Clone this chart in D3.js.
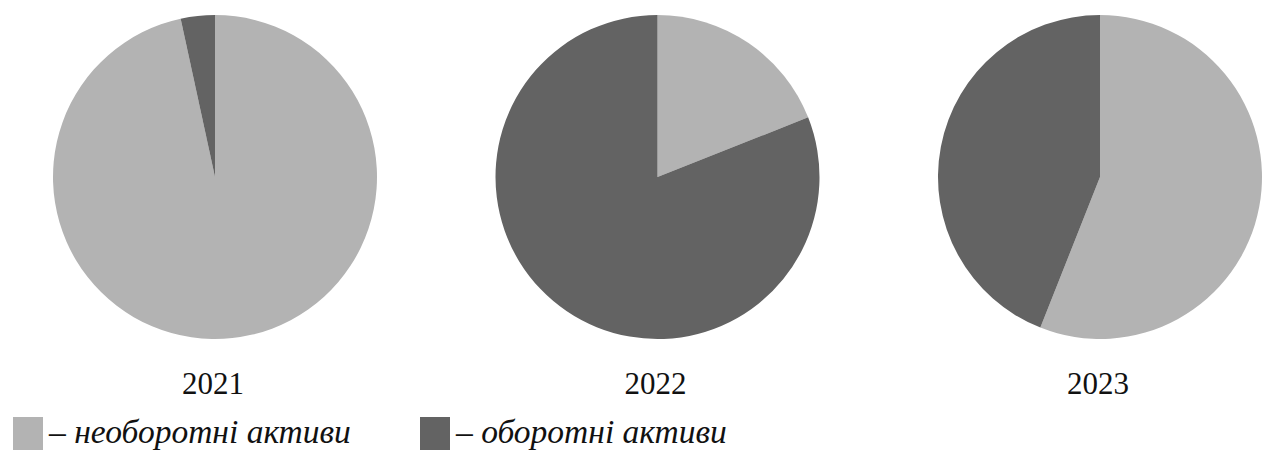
<!DOCTYPE html>
<html>
<head>
<meta charset="utf-8">
<script src="https://cdn.jsdelivr.net/npm/d3@7"></script>
<style>
  body { margin: 0; background: #ffffff; }
  svg { display: block; }
  .year { font-family: "Liberation Serif", "Times New Roman", serif; font-size: 31px; fill: #111; }
  .legend-text { font-family: "Liberation Serif", "Times New Roman", serif; font-style: italic; font-size: 33.5px; fill: #111; }
</style>
</head>
<body>
<svg id="chart" width="1267" height="454"></svg>
<script>
// structure of assets, %
var years = ["2021", "2022", "2023"];
var series_names = ["необоротні активи", "оборотні активи"];
var non_current = [96.6, 19.0, 56.0];
var current = [3.4, 81.0, 44.0];

var colors = ["#b3b3b3", "#636363"];

var width = 1267;
var radius = 162;

var svg = d3.select("#chart");

var x = d3.scalePoint()
  .domain(years)
  .range([215, 1100]);

var pie = d3.pie()
  .sort(null)
  .value(function(d) {return d;});

var arc = d3.arc()
  .innerRadius(0)
  .outerRadius(radius);

years.forEach(function(year, i)
{
  let g = svg.append("g")
    .attr("transform", "translate(" + x(year) + "," + 177 + ")");

  g.selectAll("path")
    .data(pie([non_current[i], current[i]]))
    .enter()
    .append("path")
      .attr("d", arc)
      .style("fill", function(d, j) {return colors[j];});

  svg.append("text")
    .attr("class", "year")
    .attr("x", x(year) - 2)
    .attr("y", 394)
    .style("text-anchor", "middle")
    .text(year);
});

// legend
var legend_x = [13, 420];
series_names.forEach(function(name, i)
{
  svg.append("rect")
    .attr("x", legend_x[i])
    .attr("y", 417)
    .attr("width", 30)
    .attr("height", 33)
    .style("fill", colors[i]);

  svg.append("text")
    .attr("class", "legend-text")
    .attr("x", legend_x[i] + 36)
    .attr("y", 443)
    .text("– " + name);
});
</script>
</body>
</html>
